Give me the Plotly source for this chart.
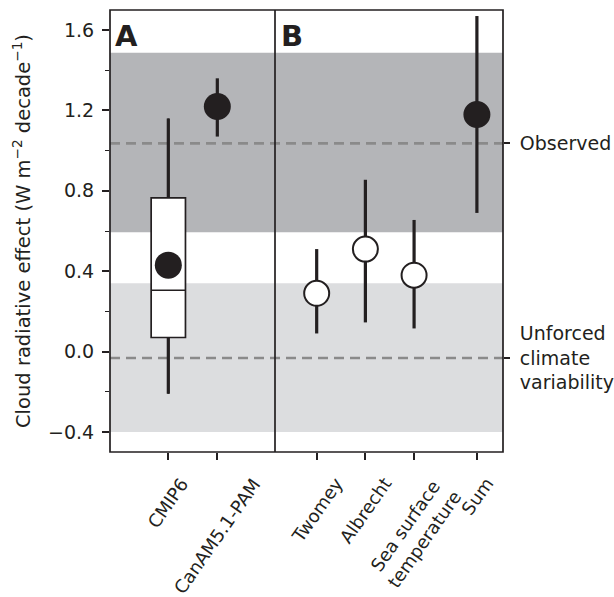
import plotly.graph_objects as go

# ---------------- data ----------------
a_labels = ["CMIP6", "CanAM5.1-PAM"]
cmip6_lowerfence = [-0.21]
cmip6_q1 = [0.07]
cmip6_median = [0.305]
cmip6_q3 = [0.765]
cmip6_upperfence = [1.16]
cmip6_mean = [0.43]
canam_value = [1.22]
canam_low = [1.07]
canam_high = [1.36]

b_labels = ["Twomey", "Albrecht", "Sea surface<br>temperature", "Sum"]
b_values = [0.29, 0.51, 0.38, 1.18]
b_low = [0.09, 0.145, 0.115, 0.69]
b_high = [0.51, 0.855, 0.655, 1.67]

observed = 1.036
observed_band = [0.594, 1.487]
unforced = -0.032
unforced_band = [-0.40, 0.34]

y_ticks = [-0.4, 0.0, 0.4, 0.8, 1.2, 1.6]

# ---------------- layout constants ----------------
a_pos = [0, 1]
b_pos = [0, 1, 2, 3.29]
b_fill = ["white", "white", "white", "#231f20"]
DARK = "#231f20"
FONT = "DejaVu Sans"
W, H = 614, 597
L, R, T, B = 110, 111, 10, 145
plot_w = W - L - R
split = (275 - L) / plot_w

fig = go.Figure()

# CMIP6 box (precomputed stats)
fig.add_trace(go.Box(
    x=[a_pos[0]], q1=cmip6_q1, median=cmip6_median, q3=cmip6_q3,
    lowerfence=cmip6_lowerfence, upperfence=cmip6_upperfence,
    width=0.7, fillcolor="white", line=dict(color=DARK, width=1.7),
    whiskerwidth=0, boxpoints=False, hoverinfo="skip", showlegend=False,
    xaxis="x", yaxis="y"))
# thick whiskers
fig.add_trace(go.Scatter(
    x=[a_pos[0], a_pos[0], None, a_pos[0], a_pos[0]],
    y=[cmip6_q3[0], cmip6_upperfence[0], None, cmip6_q1[0], cmip6_lowerfence[0]],
    mode="lines", line=dict(color=DARK, width=3.2), showlegend=False,
    hoverinfo="skip", xaxis="x", yaxis="y"))
# CMIP6 mean
fig.add_trace(go.Scatter(
    x=[a_pos[0]], y=cmip6_mean, mode="markers",
    marker=dict(size=27, color=DARK, line=dict(width=0)),
    showlegend=False, xaxis="x", yaxis="y"))
# CanAM
fig.add_trace(go.Scatter(
    x=[a_pos[1]], y=canam_value, mode="markers",
    marker=dict(size=27, color=DARK, line=dict(width=0)),
    error_y=dict(type="data", symmetric=False,
                 array=[h - v for h, v in zip(canam_high, canam_value)],
                 arrayminus=[v - l for v, l in zip(canam_value, canam_low)],
                 thickness=3.2, width=0, color=DARK),
    showlegend=False, xaxis="x", yaxis="y"))

# Panel B
fig.add_trace(go.Scatter(
    x=b_pos, y=b_values, mode="markers",
    marker=dict(size=25, color=b_fill, line=dict(width=2, color=DARK)),
    error_y=dict(type="data", symmetric=False,
                 array=[h - v for h, v in zip(b_high, b_values)],
                 arrayminus=[v - l for v, l in zip(b_values, b_low)],
                 thickness=3.2, width=0, color=DARK),
    showlegend=False, xaxis="x2", yaxis="y"))

# dummy for right axis
fig.add_trace(go.Scatter(x=[None], y=[None], xaxis="x2", yaxis="y3",
                         showlegend=False, hoverinfo="skip"))

shapes = [
    dict(type="rect", xref="paper", yref="y", x0=0, x1=1,
         y0=observed_band[0], y1=observed_band[1],
         fillcolor="#b4b5b8", line=dict(width=0), layer="below"),
    dict(type="rect", xref="paper", yref="y", x0=0, x1=1,
         y0=unforced_band[0], y1=unforced_band[1],
         fillcolor="#dcdddf", line=dict(width=0), layer="below"),
    dict(type="line", xref="paper", yref="y", x0=0, x1=1,
         y0=observed, y1=observed,
         line=dict(color="#8a8a8a", width=2.6, dash="10px,6px"), layer="below"),
    dict(type="line", xref="paper", yref="y", x0=0, x1=1,
         y0=unforced, y1=unforced,
         line=dict(color="#8a8a8a", width=2.6, dash="10px,6px"), layer="below"),
    dict(type="rect", xref="paper", yref="paper", x0=0, x1=1, y0=0, y1=1,
         line=dict(color=DARK, width=1.7), layer="above"),
    dict(type="line", xref="paper", yref="paper", x0=split, x1=split, y0=0, y1=1,
         line=dict(color=DARK, width=1.7), layer="above"),
]

tickfont = dict(family=FONT, size=19, color=DARK)
xtickfont = dict(family=FONT, size=18, color=DARK)

annotations = [
    dict(text="Cloud radiative effect (W m<sup>\u22122</sup> decade<sup>\u22121</sup>)",
         xref="paper", yref="paper", x=(22 - L) / plot_w, y=0.5,
         textangle=-90, xanchor="center", yanchor="middle", showarrow=False,
         font=dict(family=FONT, size=19.5, color=DARK)),
    dict(text="<b>A</b>", xref="paper", yref="paper", x=0.008, y=0.985,
         xanchor="left", yanchor="top", showarrow=False,
         font=dict(family=FONT, size=29, color=DARK)),
    dict(text="<b>B</b>", xref="paper", yref="paper", x=split + 0.01, y=0.985,
         xanchor="left", yanchor="top", showarrow=False,
         font=dict(family=FONT, size=29, color=DARK)),
]
# rotated category labels (centered under ticks, like matplotlib's default)
for xr, pos, labs in (("x", a_pos, a_labels), ("x2", b_pos, b_labels)):
    for p, lab in zip(pos, labs):
        annotations.append(dict(
            text=lab, xref=xr, yref="paper", x=p, y=0, yshift=-19,
            xanchor="center", yanchor="top", textangle=-55, showarrow=False,
            align="center", font=xtickfont))

axis_common = dict(showgrid=False, zeroline=False, showline=False, automargin=False)

fig.update_layout(
    width=W, height=H,
    margin=dict(l=L, r=R, t=T, b=B, autoexpand=False),
    paper_bgcolor="white", plot_bgcolor="rgba(0,0,0,0)",
    font=dict(family=FONT, color=DARK),
    shapes=shapes,
    annotations=annotations,
    xaxis=dict(domain=[0, split], range=[-1.19, 2.177], anchor="y",
               tickvals=a_pos, showticklabels=False,
               ticks="outside", ticklen=7, tickwidth=1.5, tickcolor=DARK,
               **axis_common),
    xaxis2=dict(domain=[split, 1], range=[-0.856, 3.826], anchor="y",
                tickvals=b_pos, showticklabels=False,
                ticks="outside", ticklen=7, tickwidth=1.5, tickcolor=DARK,
                **axis_common),
    yaxis=dict(domain=[0, 1], range=[-0.5, 1.7], anchor="x",
               tickvals=y_ticks, tickformat=".1f",
               ticks="outside", ticklen=7, tickwidth=1.5, tickcolor=DARK,
               ticklabelstandoff=4,
               minor=dict(dtick=0.2, tick0=0, ticks="outside", ticklen=4,
                          tickwidth=1.2, tickcolor=DARK),
               tickfont=tickfont, **axis_common),
    yaxis3=dict(overlaying="y", side="right", anchor="x2", range=[-0.5, 1.7],
                tickvals=[observed, unforced],
                ticktext=["Observed", "Unforced<br>climate<br>variability"],
                ticks="outside", ticklen=6, tickwidth=1.5, tickcolor=DARK,
                ticklabelstandoff=6,
                tickfont=tickfont, **axis_common),
)

fig.write_html("out.html", config={"displayModeBar": False},
               post_script="document.body.style.margin='0';document.body.style.padding='0';")
